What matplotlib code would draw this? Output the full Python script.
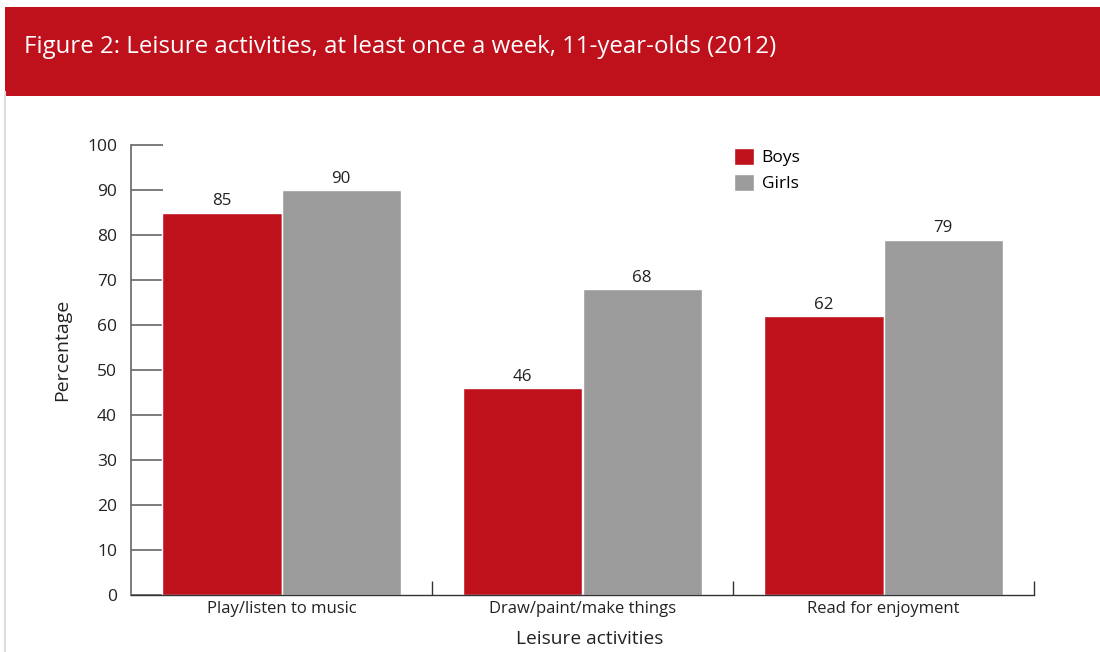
import matplotlib.pyplot as plt
import numpy as np
from matplotlib.patches import Rectangle
from matplotlib.lines import Line2D

# data
activities = ["Play/listen to music", "Draw/paint/make things", "Read for enjoyment"]
boys = [85, 46, 62]
girls = [90, 68, 79]
yticks = [0, 10, 20, 30, 40, 50, 60, 70, 80, 90, 100]

red = "#BE111C"
grey = "#9B9B9B"
txt = "#222222"

plt.rcParams['font.family'] = ['Open Sans', 'DejaVu Sans']

fig = plt.figure(figsize=(11, 6.52), dpi=100)

# title banner
fig.patches.append(Rectangle((5/1100, 1-96/652), 1-5/1100, 89/652, transform=fig.transFigure,
                             facecolor=red, edgecolor='none', zorder=0))
fig.text(24/1100, 1-47/652, "Figure 2: Leisure activities, at least once a week, 11-year-olds (2012)",
         color='white', fontsize=17.3, va='center', ha='left')
fig.lines.append(Line2D([5/1100, 5/1100], [0, 1-92/652], transform=fig.transFigure,
                        color='#dddddd', lw=1.5))

ax = fig.add_axes([131/1100, 1-595/652, (1034-131)/1100, 450/652])

x = np.arange(len(activities)) + 0.5
w = 0.397
b1 = ax.bar(x - w/2, boys, w, color=red, edgecolor='white', linewidth=1, label="Boys", zorder=2)
b2 = ax.bar(x + w/2, girls, w, color=grey, edgecolor='white', linewidth=1, label="Girls", zorder=2)

for rects, vals in ((b1, boys), (b2, girls)):
    for r, v in zip(rects, vals):
        ax.text(r.get_x() + r.get_width()/2, v + 0.7, str(v), ha='center', va='bottom',
                fontsize=12.2, color=txt)

ax.set_xlim(0, 3)
ax.set_ylim(0, 100)
ax.set_yticks(yticks)
ax.tick_params(axis='y', direction='in', length=23, width=1.2, color='#666666',
               labelsize=12.5, labelcolor=txt, pad=10)
ax.set_xticks(x)
ax.set_xticklabels(activities)
ax.tick_params(axis='x', length=0, labelsize=12, labelcolor=txt, pad=4)
ax.set_xticks([1, 2, 3], minor=True)
ax.tick_params(axis='x', which='minor', direction='in', length=10, width=1, color='#333333')

for s in ['top', 'right']:
    ax.spines[s].set_visible(False)
ax.spines['left'].set_color('#666666')
ax.spines['left'].set_linewidth(1.2)
ax.spines['bottom'].set_color('#333333')
ax.spines['bottom'].set_linewidth(1)

fig.text(62/1100, 1-350/652, "Percentage", rotation=90, ha='center', va='center',
         fontsize=14, color=txt)
fig.text(590/1100, 1-639/652, "Leisure activities", ha='center', va='center',
         fontsize=13.8, color=txt)

ax.legend(loc='upper left', bbox_to_anchor=(0.656, 1.017), frameon=False, fontsize=12.5,
          handlelength=1.15, handleheight=1.15, handletextpad=0.45, labelspacing=0.42,
          borderaxespad=0.2)

fig.savefig("out.png", dpi=100)
